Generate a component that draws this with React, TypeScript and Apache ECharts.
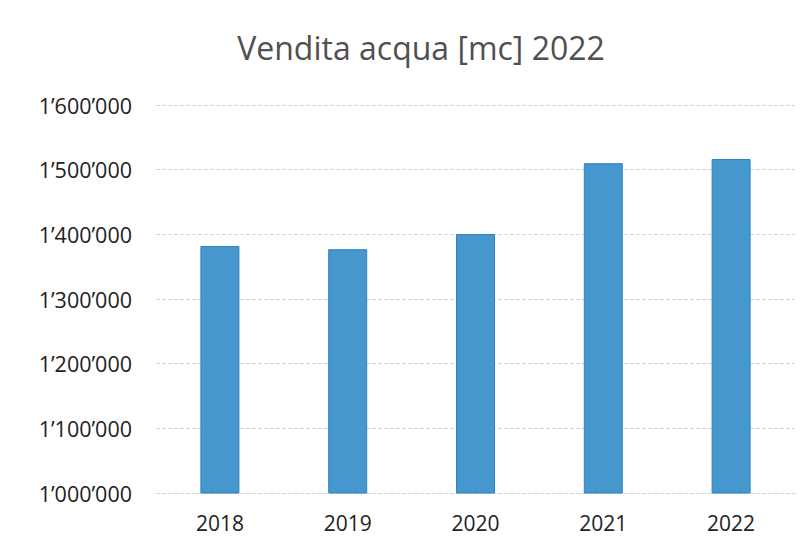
import React, { useEffect, useRef } from "react";
import * as echarts from "echarts";

const titleText = "Vendita acqua [mc] 2022";
const categories = ["2018", "2019", "2020", "2021", "2022"];
const values = [1382000, 1377000, 1400500, 1510000, 1516500];
const yMin = 1000000;
const yMax = 1600000;
const yInterval = 100000;

function fmt(v: number): string {
  const s = Math.round(v).toString();
  return s.replace(/\B(?=(\d{3})+(?!\d))/g, "\u2019");
}

export default function App() {
  const ref = useRef<HTMLDivElement>(null);
  useEffect(() => {
    const chart = echarts.init(ref.current!, null, { renderer: "svg" });
    chart.setOption({
      animation: false,
      backgroundColor: "#ffffff",
      title: {
        text: titleText,
        left: 416,
        textAlign: "center",
        top: 26,
        textStyle: {
          fontFamily: "Open Sans",
          fontSize: 32,
          fontWeight: "normal",
          color: "#505050",
        },
      },
      grid: { left: 156, right: 16, top: 105, bottom: 55 },
      xAxis: {
        type: "category",
        data: categories,
        axisLine: { show: true, lineStyle: { color: "#c6dbe9", width: 1, type: "dashed" } },
        axisTick: { show: false },
        axisLabel: {
          margin: 19,
          fontFamily: "Open Sans",
          fontSize: 21,
          color: "#222222",
        },
      },
      yAxis: {
        type: "value",
        min: yMin,
        max: yMax,
        interval: yInterval,
        axisLine: { show: false },
        axisTick: { show: false },
        axisLabel: {
          margin: 24,
          fontFamily: "Open Sans",
          fontSize: 21.5,
          color: "#222222",
          formatter: (v: number) => fmt(v),
        },
        splitLine: { show: true, lineStyle: { color: "#c6dbe9", width: 1, type: "dashed" } },
      },
      series: [
        {
          type: "bar",
          data: values,
          barWidth: 39,
          itemStyle: { color: "#4597cd", borderColor: "#2f83c0", borderWidth: 1 },
        },
      ],
    });
    return () => chart.dispose();
  }, []);
  return (
    <div
      ref={ref}
      style={{ position: "fixed", left: 0, top: 0, width: 811, height: 548 }}
    />
  );
}
